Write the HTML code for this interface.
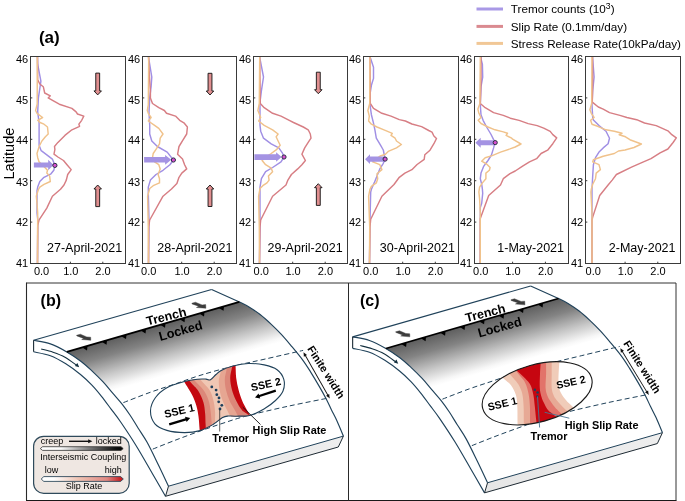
<!DOCTYPE html>
<html><head><meta charset="utf-8"><style>
html,body{margin:0;padding:0;background:#fff;}
svg{display:block;will-change:transform;}
text{font-family:"Liberation Sans",sans-serif;fill:#000;}
</style></head><body>
<svg width="685" height="501" viewBox="0 0 685 501">
<rect x="0" y="0" width="685" height="501" fill="#fff"/>
<clipPath id="cp0"><rect x="30.5" y="56.5" width="95.0" height="207.0"/></clipPath>
<g clip-path="url(#cp0)" fill="none" stroke-width="1.45" stroke-linejoin="round" stroke-linecap="round">
<polyline points="37.5,57 37.7,64.4 40.9,81.2 38.4,97.9 37.7,111.9 39.1,123 39.1,134 39.1,145.2 41.2,150.7 46.8,154.9 52.4,159.1 54.9,165.4 53.8,170.3 51,173.8 44,177.3 39.8,181.5 37.7,187.1 37,190.6 37,213 37.8,220 37.5,263" stroke="#a08fe4"/>
<polyline points="37.5,57 37.7,79.8 39.8,84 43.3,86.7 44.7,93 50.3,95.8 48.2,97.9 53,100.7 59.3,104.2 71.9,108.4 76.1,111.9 77.5,114 83.8,116.1 81.7,120.3 78.9,124.2 79.6,126.3 71.9,129.8 64.9,135.4 57.9,142.4 54.5,146.5 54.9,149.3 54,154.2 57.9,157 63.5,160.5 67,164.7 71.2,169.6 67.7,174.5 66.3,180.1 64,185 60.5,189.2 52.4,196.2 46.8,208.1 39.1,219.9 37.7,225.5 37.5,263" stroke="#d77e84"/>
<polyline points="37.3,57 37.2,104 36.3,107.7 35.6,110.5 37,113.3 42.6,117.5 37.7,120.3 40,122.5 44,124.2 47.5,127 48.2,134 45.4,136.8 41.9,141 39.1,146.5 37,153.5 37.7,157.7 39.1,161.9 43,165.5 47.5,170.3 46.8,173.1 49.6,175.9 50.3,181.5 44,184.3 39.8,187.1 38.4,189.5 36.3,196.2 37,203.2 37.7,213 37.5,263" stroke="#f0c28b"/>
</g>
<polygon points="33.9,162.6 48.2,162.6 48.2,159.8 53.5,165.05 48.2,170.3 48.2,167.5 33.9,167.5" fill="#a493e3"/>
<circle cx="54.9" cy="165.4" r="2.1" fill="#d84fd0" stroke="#2a2f45" stroke-width="1"/>
<polygon points="95.75,73.1 99.65,73.1 99.65,90.9 101.45,90.9 97.7,94.9 93.95,90.9 95.75,90.9" fill="#e08f90" stroke="#111" stroke-width="0.9" stroke-linejoin="miter"/>
<polygon points="95.75,206.6 99.65,206.6 99.65,189 101.45,189 97.7,185 93.95,189 95.75,189" fill="#e08f90" stroke="#111" stroke-width="0.9" stroke-linejoin="miter"/>
<rect x="30.5" y="56.5" width="95.0" height="207.0" fill="none" stroke="#3a3a3a" stroke-width="1"/>
<line x1="30.5" y1="97.9" x2="32.3" y2="97.9" stroke="#3a3a3a" stroke-width="1"/>
<line x1="30.5" y1="139.3" x2="32.3" y2="139.3" stroke="#3a3a3a" stroke-width="1"/>
<line x1="30.5" y1="180.7" x2="32.3" y2="180.7" stroke="#3a3a3a" stroke-width="1"/>
<line x1="30.5" y1="222.1" x2="32.3" y2="222.1" stroke="#3a3a3a" stroke-width="1"/>
<line x1="70.4" y1="263.5" x2="70.4" y2="261.7" stroke="#3a3a3a" stroke-width="1"/>
<line x1="102.8" y1="263.5" x2="102.8" y2="261.7" stroke="#3a3a3a" stroke-width="1"/>
<text x="28.2" y="62.95" font-size="11" text-anchor="end">46</text>
<text x="28.2" y="103.85" font-size="11" text-anchor="end">45</text>
<text x="28.2" y="144.3" font-size="11" text-anchor="end">44</text>
<text x="28.2" y="185.65" font-size="11" text-anchor="end">43</text>
<text x="28.2" y="225.95" font-size="11" text-anchor="end">42</text>
<text x="28.2" y="267.25" font-size="11" text-anchor="end">41</text>
<text x="41.6" y="274.8" font-size="11" text-anchor="middle">0.0</text>
<text x="70.8" y="274.8" font-size="11" text-anchor="middle">1.0</text>
<text x="103" y="274.8" font-size="11" text-anchor="middle">2.0</text>
<text x="122.1" y="251.8" font-size="12.5" text-anchor="end">27-April-2021</text>
<clipPath id="cp1"><rect x="142.5" y="56.5" width="94.0" height="207.0"/></clipPath>
<g clip-path="url(#cp1)" fill="none" stroke-width="1.45" stroke-linejoin="round" stroke-linecap="round">
<polyline points="148.5,57 149,60.2 151.8,77 151.1,86.7 149.7,97.9 149,111.9 149.7,125.2 149.7,134 151.8,141 157.4,146.5 167.2,152.1 173.4,160 169.9,164.7 163,170.3 156,174.5 150.4,180.1 148.3,187.1 148.3,193.4 149,220 148.5,263" stroke="#a08fe4"/>
<polyline points="148.5,57 149.7,80.5 150.4,90.9 150.4,97.9 152.5,103.5 158.8,107.7 164.4,110.5 166.5,113.3 175.5,116.1 179.7,120.3 183.9,122.8 187.4,127 186.7,134 183.2,139.6 179,146.5 177.6,154.2 182.5,159.1 184.6,164.7 186.7,168.9 181.8,173.1 179,177.3 176.9,183.5 171.5,189 163,196.2 149.7,220 148.7,226.9 148.5,263" stroke="#d77e84"/>
<polyline points="148.7,57 148.3,104.9 147.3,110.5 148.3,113.3 151.1,117.5 148.3,121 154.6,125.4 158.8,128.4 163,134 160.2,138.2 159.5,143.8 156,149.3 153.2,153.5 152.5,157.7 154.6,161.9 158.8,164.7 160.2,168.9 158.1,174.5 159.5,178.7 159.5,182.9 153.2,185.7 149.7,188.5 147.6,196.2 148.3,226.9 148.5,263" stroke="#f0c28b"/>
</g>
<polygon points="144.1,157 165.1,157 165.1,154.9 171.3,159.8 165.1,164.7 165.1,162.6 144.1,162.6" fill="#a493e3"/>
<circle cx="173.4" cy="160.0" r="2.1" fill="#d84fd0" stroke="#2a2f45" stroke-width="1"/>
<polygon points="208.05,73.3 211.95,73.3 211.95,91 213.75,91 210,95 206.25,91 208.05,91" fill="#e08f90" stroke="#111" stroke-width="0.9" stroke-linejoin="miter"/>
<polygon points="208.05,206.5 211.95,206.5 211.95,189 213.75,189 210,185 206.25,189 208.05,189" fill="#e08f90" stroke="#111" stroke-width="0.9" stroke-linejoin="miter"/>
<rect x="142.5" y="56.5" width="94.0" height="207.0" fill="none" stroke="#3a3a3a" stroke-width="1"/>
<line x1="142.5" y1="97.9" x2="144.3" y2="97.9" stroke="#3a3a3a" stroke-width="1"/>
<line x1="142.5" y1="139.3" x2="144.3" y2="139.3" stroke="#3a3a3a" stroke-width="1"/>
<line x1="142.5" y1="180.7" x2="144.3" y2="180.7" stroke="#3a3a3a" stroke-width="1"/>
<line x1="142.5" y1="222.1" x2="144.3" y2="222.1" stroke="#3a3a3a" stroke-width="1"/>
<line x1="181.7" y1="263.5" x2="181.7" y2="261.7" stroke="#3a3a3a" stroke-width="1"/>
<line x1="214.2" y1="263.5" x2="214.2" y2="261.7" stroke="#3a3a3a" stroke-width="1"/>
<text x="140.2" y="62.95" font-size="11" text-anchor="end">46</text>
<text x="140.2" y="103.85" font-size="11" text-anchor="end">45</text>
<text x="140.2" y="144.3" font-size="11" text-anchor="end">44</text>
<text x="140.2" y="185.65" font-size="11" text-anchor="end">43</text>
<text x="140.2" y="225.95" font-size="11" text-anchor="end">42</text>
<text x="140.2" y="267.25" font-size="11" text-anchor="end">41</text>
<text x="148.7" y="274.8" font-size="11" text-anchor="middle">0.0</text>
<text x="182.1" y="274.8" font-size="11" text-anchor="middle">1.0</text>
<text x="214.4" y="274.8" font-size="11" text-anchor="middle">2.0</text>
<text x="232.4" y="251.8" font-size="12.5" text-anchor="end">28-April-2021</text>
<clipPath id="cp2"><rect x="253.5" y="56.5" width="94.0" height="207.0"/></clipPath>
<g clip-path="url(#cp2)" fill="none" stroke-width="1.45" stroke-linejoin="round" stroke-linecap="round">
<polyline points="259.7,57 260,58.8 263.5,77 261.4,90.9 260,102.1 260,125.2 260.7,131.2 263.5,138.2 271.2,143.8 278.8,147.9 282.3,152.8 284,157 281,161.9 272.6,167.5 265.6,171.7 261.4,178.7 260,187.1 260,220 259.5,263" stroke="#a08fe4"/>
<polyline points="259.7,57 260,79.8 260.3,103.5 264.2,107.7 272.6,113.3 281,116.1 289.3,120.3 293.5,122.5 303.3,127 308.2,129.8 310.3,134 311,138.2 308.2,142.4 304.7,147.9 301.9,154.2 305.4,160.5 301.9,164.7 297.7,168.9 291.4,174.5 287.9,180.1 286,185 272.6,196.2 260.7,220 260,226.9 259.5,263" stroke="#d77e84"/>
<polyline points="259.7,57 259.3,103.5 257.9,110.5 260.7,117.5 258.6,121 264.2,125.4 272.6,129.8 278.1,134 276.1,136.8 278.1,141 280.2,145.2 276.8,149.3 271.2,153.5 266,157 262.1,160.5 265.6,164.7 271.2,168.2 272.6,171.7 268.4,175.9 269.1,180.1 267,182.9 262.8,185.7 260,188.5 258.6,196.2 259.3,226.9 259.5,263" stroke="#f0c28b"/>
</g>
<polygon points="254.4,154.3 276.1,154.3 276.1,152.35 281.6,157.1 276.1,161.85 276.1,159.9 254.4,159.9" fill="#a493e3"/>
<circle cx="284.0" cy="157.0" r="2.1" fill="#d84fd0" stroke="#2a2f45" stroke-width="1"/>
<polygon points="316.35,72.2 320.25,72.2 320.25,89.7 322.05,89.7 318.3,93.7 314.55,89.7 316.35,89.7" fill="#e08f90" stroke="#111" stroke-width="0.9" stroke-linejoin="miter"/>
<polygon points="316.35,205.4 320.25,205.4 320.25,187.7 322.05,187.7 318.3,183.7 314.55,187.7 316.35,187.7" fill="#e08f90" stroke="#111" stroke-width="0.9" stroke-linejoin="miter"/>
<rect x="253.5" y="56.5" width="94.0" height="207.0" fill="none" stroke="#3a3a3a" stroke-width="1"/>
<line x1="253.5" y1="97.9" x2="255.3" y2="97.9" stroke="#3a3a3a" stroke-width="1"/>
<line x1="253.5" y1="139.3" x2="255.3" y2="139.3" stroke="#3a3a3a" stroke-width="1"/>
<line x1="253.5" y1="180.7" x2="255.3" y2="180.7" stroke="#3a3a3a" stroke-width="1"/>
<line x1="253.5" y1="222.1" x2="255.3" y2="222.1" stroke="#3a3a3a" stroke-width="1"/>
<line x1="292.7" y1="263.5" x2="292.7" y2="261.7" stroke="#3a3a3a" stroke-width="1"/>
<line x1="325.2" y1="263.5" x2="325.2" y2="261.7" stroke="#3a3a3a" stroke-width="1"/>
<text x="251.2" y="62.95" font-size="11" text-anchor="end">46</text>
<text x="251.2" y="103.85" font-size="11" text-anchor="end">45</text>
<text x="251.2" y="144.3" font-size="11" text-anchor="end">44</text>
<text x="251.2" y="185.65" font-size="11" text-anchor="end">43</text>
<text x="251.2" y="225.95" font-size="11" text-anchor="end">42</text>
<text x="251.2" y="267.25" font-size="11" text-anchor="end">41</text>
<text x="261.2" y="274.8" font-size="11" text-anchor="middle">0.0</text>
<text x="293.1" y="274.8" font-size="11" text-anchor="middle">1.0</text>
<text x="325.4" y="274.8" font-size="11" text-anchor="middle">2.0</text>
<text x="342.6" y="251.8" font-size="12.5" text-anchor="end">29-April-2021</text>
<clipPath id="cp3"><rect x="363.5" y="56.5" width="95.0" height="207.0"/></clipPath>
<g clip-path="url(#cp3)" fill="none" stroke-width="1.45" stroke-linejoin="round" stroke-linecap="round">
<polyline points="370,57 370.7,58.8 373.5,67.2 373.5,78.4 371.4,85.3 370.3,92.3 370,104.9 371.4,114.7 373.5,123.1 374.9,129.8 376.3,138.2 380.5,145.2 383.3,150 385.1,159.1 383.3,163.3 379.8,168.9 377,175.9 374.2,182.9 371.4,189.2 370.7,192 370,220 369.5,263" stroke="#a08fe4"/>
<polyline points="370,57 370.3,90.9 370.3,103.5 373.5,108.4 381.9,113.3 391,116.1 399.3,119.6 405.4,121 411.9,124 421.6,126.6 428.7,130.5 432,132.1 433.9,136 436.5,138.5 433.9,143.7 430,150.2 424.8,154.8 424.2,159.3 417.1,164.5 411.9,169.7 404.9,173.1 399.3,177.3 394,184.5 381.9,196.2 370.7,219.2 370,226.9 369.5,263" stroke="#d77e84"/>
<polyline points="370,57 369.7,103.5 367.9,110.5 369.3,116.1 368.6,121 371.4,124.2 377,127 384,129.8 392.3,133.3 391,135.4 395.1,138.2 396.5,141 401.4,144.5 396.5,147.9 388.2,151.4 385.4,154.2 379.8,156.3 376,159 372.8,161.9 379.8,164.7 381.9,169.6 377,173.8 377.7,178.7 376.3,182.9 371.4,186.4 370,189.2 368.6,196.2 369.7,226.9 369.5,263" stroke="#f0c28b"/>
</g>
<polygon points="384,156.55 370,156.55 370,154.3 365.1,159.2 370,164.1 370,161.85 384,161.85" fill="#a493e3"/>
<circle cx="385.1" cy="159.1" r="2.1" fill="#d84fd0" stroke="#2a2f45" stroke-width="1"/>
<rect x="363.5" y="56.5" width="95.0" height="207.0" fill="none" stroke="#3a3a3a" stroke-width="1"/>
<line x1="363.5" y1="97.9" x2="365.3" y2="97.9" stroke="#3a3a3a" stroke-width="1"/>
<line x1="363.5" y1="139.3" x2="365.3" y2="139.3" stroke="#3a3a3a" stroke-width="1"/>
<line x1="363.5" y1="180.7" x2="365.3" y2="180.7" stroke="#3a3a3a" stroke-width="1"/>
<line x1="363.5" y1="222.1" x2="365.3" y2="222.1" stroke="#3a3a3a" stroke-width="1"/>
<line x1="402.7" y1="263.5" x2="402.7" y2="261.7" stroke="#3a3a3a" stroke-width="1"/>
<line x1="435.3" y1="263.5" x2="435.3" y2="261.7" stroke="#3a3a3a" stroke-width="1"/>
<text x="361.2" y="62.95" font-size="11" text-anchor="end">46</text>
<text x="361.2" y="103.85" font-size="11" text-anchor="end">45</text>
<text x="361.2" y="144.3" font-size="11" text-anchor="end">44</text>
<text x="361.2" y="185.65" font-size="11" text-anchor="end">43</text>
<text x="361.2" y="225.95" font-size="11" text-anchor="end">42</text>
<text x="361.2" y="267.25" font-size="11" text-anchor="end">41</text>
<text x="370.7" y="274.8" font-size="11" text-anchor="middle">0.0</text>
<text x="403.1" y="274.8" font-size="11" text-anchor="middle">1.0</text>
<text x="435.5" y="274.8" font-size="11" text-anchor="middle">2.0</text>
<text x="454.9" y="251.8" font-size="12.5" text-anchor="end">30-April-2021</text>
<clipPath id="cp4"><rect x="474.5" y="56.5" width="94.0" height="207.0"/></clipPath>
<g clip-path="url(#cp4)" fill="none" stroke-width="1.45" stroke-linejoin="round" stroke-linecap="round">
<polyline points="481,57 481,58.8 482.4,64.4 482.7,77 481,86.7 480.3,104.9 481,114.7 483.1,120.3 486.6,127 490.8,134 495,142.4 493.6,147.9 491.5,154.9 488,160.5 483.8,166.1 481,173.1 480.3,178.7 481.7,184.3 482.4,189.2 482.7,193.4 481.7,203.2 480.3,207.4 480.3,263" stroke="#a08fe4"/>
<polyline points="481,57 481,81.1 480.3,103.5 485.2,107.7 493.6,112.6 503.3,115.4 510.3,118.2 519.1,120.4 528.2,123.6 537.2,125.6 543.7,128.2 550.2,131.4 552.8,134.6 556.7,137.9 552.8,143.7 547.6,150.2 541.1,153.5 536.6,158.7 529.5,161.9 523,165.8 515.2,171 510,173.6 503.3,178.7 500.5,185 488.7,195.5 480.3,218.5 480.3,263" stroke="#d77e84"/>
<polyline points="480.3,57 479.9,103.5 477.9,109.1 478.9,113.3 481,117.5 478.2,120.3 481,123.5 488,127 495,129.8 503.3,131.9 507.5,133.3 506.1,135.4 511.7,138.2 512.6,139.2 521,144 515.2,147 510,148.9 500.5,152.1 492.2,155.6 485.2,157.7 481.7,161.2 486.6,164 490.1,167.5 489.4,170.3 485.9,173.1 485.9,178.7 482.4,182.9 479.6,187.1 478.9,192 479.6,199 480.3,213 480.3,263" stroke="#f0c28b"/>
</g>
<polygon points="493.6,140.3 480.7,140.3 480.7,137.85 475.4,142.75 480.7,147.65 480.7,145.2 493.6,145.2" fill="#a493e3"/>
<circle cx="495.2" cy="142.6" r="2.1" fill="#d84fd0" stroke="#2a2f45" stroke-width="1"/>
<rect x="474.5" y="56.5" width="94.0" height="207.0" fill="none" stroke="#3a3a3a" stroke-width="1"/>
<line x1="474.5" y1="97.9" x2="476.3" y2="97.9" stroke="#3a3a3a" stroke-width="1"/>
<line x1="474.5" y1="139.3" x2="476.3" y2="139.3" stroke="#3a3a3a" stroke-width="1"/>
<line x1="474.5" y1="180.7" x2="476.3" y2="180.7" stroke="#3a3a3a" stroke-width="1"/>
<line x1="474.5" y1="222.1" x2="476.3" y2="222.1" stroke="#3a3a3a" stroke-width="1"/>
<line x1="512.6" y1="263.5" x2="512.6" y2="261.7" stroke="#3a3a3a" stroke-width="1"/>
<line x1="545.4" y1="263.5" x2="545.4" y2="261.7" stroke="#3a3a3a" stroke-width="1"/>
<text x="472.2" y="62.95" font-size="11" text-anchor="end">46</text>
<text x="472.2" y="103.85" font-size="11" text-anchor="end">45</text>
<text x="472.2" y="144.3" font-size="11" text-anchor="end">44</text>
<text x="472.2" y="185.65" font-size="11" text-anchor="end">43</text>
<text x="472.2" y="225.95" font-size="11" text-anchor="end">42</text>
<text x="472.2" y="267.25" font-size="11" text-anchor="end">41</text>
<text x="480.7" y="274.8" font-size="11" text-anchor="middle">0.0</text>
<text x="513" y="274.8" font-size="11" text-anchor="middle">1.0</text>
<text x="545.6" y="274.8" font-size="11" text-anchor="middle">2.0</text>
<text x="564" y="251.8" font-size="12.5" text-anchor="end">1-May-2021</text>
<clipPath id="cp5"><rect x="585.5" y="56.5" width="95.0" height="207.0"/></clipPath>
<g clip-path="url(#cp5)" fill="none" stroke-width="1.45" stroke-linejoin="round" stroke-linecap="round">
<polyline points="592.5,57 592.7,58.8 594.1,77 592.7,90.9 592,104.9 592.7,117.5 593.4,120 599,125.6 606,131.2 609.5,138.2 608.1,143.8 603.2,147.9 599,152.1 595.5,157.7 593.4,164.7 592.7,175.9 592,189.2 592,263" stroke="#a08fe4"/>
<polyline points="592.5,57 592.7,81.1 592.3,102.1 598.3,107 603.2,109.1 609.5,112.6 619.9,115.4 626.9,117.5 636.7,119.7 644.5,123 656.2,125.6 667.9,130.8 671.8,134.7 676.3,137.9 673.1,142.5 667.9,149 660.1,152.9 651,158.7 640.6,163.2 631.5,167.1 616.4,174.5 612.2,180.1 608.1,185 599.7,195.5 592.7,217.1 592,220 592,263" stroke="#d77e84"/>
<polyline points="592,57 591.7,103.5 589.9,109.8 591.3,113.3 594.1,117.5 590.6,120.3 592,124.2 597.6,126.3 606,129.8 614.3,131.2 622,133.3 619.2,134.7 625.5,136.8 629.9,139.7 635.3,141.7 641.4,144 634,147.5 625,150 618.5,151 614.3,153.5 603.2,156.3 593.4,159.8 592.7,161.9 599,164.7 600.4,169.6 596.2,173.1 595.5,178.7 592.7,184.3 591.3,189.2 590.9,192 592,213 592,263" stroke="#f0c28b"/>
</g>
<rect x="585.5" y="56.5" width="95.0" height="207.0" fill="none" stroke="#3a3a3a" stroke-width="1"/>
<line x1="585.5" y1="97.9" x2="587.3" y2="97.9" stroke="#3a3a3a" stroke-width="1"/>
<line x1="585.5" y1="139.3" x2="587.3" y2="139.3" stroke="#3a3a3a" stroke-width="1"/>
<line x1="585.5" y1="180.7" x2="587.3" y2="180.7" stroke="#3a3a3a" stroke-width="1"/>
<line x1="585.5" y1="222.1" x2="587.3" y2="222.1" stroke="#3a3a3a" stroke-width="1"/>
<line x1="625.1" y1="263.5" x2="625.1" y2="261.7" stroke="#3a3a3a" stroke-width="1"/>
<line x1="657.8" y1="263.5" x2="657.8" y2="261.7" stroke="#3a3a3a" stroke-width="1"/>
<text x="583.2" y="62.95" font-size="11" text-anchor="end">46</text>
<text x="583.2" y="103.85" font-size="11" text-anchor="end">45</text>
<text x="583.2" y="144.3" font-size="11" text-anchor="end">44</text>
<text x="583.2" y="185.65" font-size="11" text-anchor="end">43</text>
<text x="583.2" y="225.95" font-size="11" text-anchor="end">42</text>
<text x="583.2" y="267.25" font-size="11" text-anchor="end">41</text>
<text x="593.2" y="274.8" font-size="11" text-anchor="middle">0.0</text>
<text x="625.5" y="274.8" font-size="11" text-anchor="middle">1.0</text>
<text x="658" y="274.8" font-size="11" text-anchor="middle">2.0</text>
<text x="675.5" y="251.8" font-size="12.5" text-anchor="end">2-May-2021</text>
<text x="38.9" y="42.6" font-size="17" font-weight="bold">(a)</text>
<text transform="translate(14.0,153.6) rotate(-90)" font-size="14.6" text-anchor="middle">Latitude</text>
<line x1="476.5" y1="9.0" x2="503" y2="9.0" stroke="#a08fe4" stroke-width="3" opacity="0.9"/>
<text x="510.8" y="13.2" font-size="11.7">Tremor counts (10<tspan font-size="8.6" dy="-4.4">3</tspan><tspan dy="4.4">)</tspan></text>
<line x1="476.5" y1="26.4" x2="503" y2="26.4" stroke="#d77e84" stroke-width="3" opacity="0.9"/>
<text x="510.8" y="30.6" font-size="11.7">Slip Rate (0.1mm/day)</text>
<line x1="476.5" y1="43.4" x2="503" y2="43.4" stroke="#f0c28b" stroke-width="3" opacity="0.9"/>
<text x="510.8" y="47.6" font-size="11.7">Stress Release Rate(10kPa/day)</text>
<line x1="26.5" y1="283" x2="676" y2="283" stroke="#333" stroke-width="1"/>
<line x1="676" y1="283" x2="676" y2="500.5" stroke="#333" stroke-width="1"/>
<line x1="26.5" y1="282.5" x2="26.5" y2="500.5" stroke="#2a2a2a" stroke-width="1.1"/>
<line x1="26" y1="500.5" x2="676.5" y2="500.5" stroke="#1a1a1a" stroke-width="1"/>
<line x1="348.5" y1="283" x2="348.5" y2="500.5" stroke="#2a2a2a" stroke-width="1"/>
<defs><linearGradient id="sbg" gradientUnits="userSpaceOnUse" x1="153.1" y1="326.9" x2="167.01" y2="374.93"><stop offset="0" stop-color="#5e5e5e"/><stop offset="0.3" stop-color="#838383"/><stop offset="0.65" stop-color="#c7c7c7"/><stop offset="0.92" stop-color="#f7f7f7"/><stop offset="1" stop-color="#fff"/></linearGradient><linearGradient id="sbf" x1="0" y1="0" x2="1" y2="0"><stop offset="0" stop-color="#e6e6e6"/><stop offset="1" stop-color="#eeeeee"/></linearGradient></defs>
<path d="M66.8,351.9 L239.4,301.9 C241,302.73 245.55,304.8 249,306.9 C252.45,309 256.38,311.6 260.1,314.5 C263.82,317.4 267.8,321.03 271.3,324.3 C274.8,327.57 277.85,330.6 281.1,334.1 C284.35,337.6 287.25,341.05 290.8,345.3 C294.35,349.55 299.08,355.13 302.4,359.6 C305.72,364.07 307.92,367.68 310.7,372.1 C313.48,376.52 316.53,381.67 319.1,386.1 C321.67,390.53 324.03,394.72 326.1,398.7 C328.17,402.68 329.68,406.28 331.5,410 C333.32,413.72 335.02,416.65 337,421 C338.98,425.35 342.33,433.58 343.4,436.1 L168.5,486.2 C166.8,482.62 161.87,472.02 158.3,464.7 C154.73,457.38 150.45,448.38 147.1,442.3 C143.75,436.22 141,432.67 138.2,428.2 C135.4,423.73 132.95,419.48 130.3,415.5 C127.65,411.52 125.23,408.03 122.3,404.3 C119.37,400.57 115.9,396.83 112.7,393.1 C109.5,389.37 106.57,385.62 103.1,381.9 C99.63,378.18 95.62,374.25 91.9,370.8 C88.18,367.35 84.98,364.35 80.8,361.2 C76.62,358.05 69.13,353.45 66.8,351.9Z" fill="url(#sbg)"/>
<polygon points="168.5,486.2 343.4,436.1 338.3,447 165.5,496.3" fill="url(#sbf)"/>
<path d="M33.6,340.3 C36.4,340.9 44.87,341.97 50.4,343.9 C55.93,345.83 61.73,349.02 66.8,351.9 C71.87,354.78 76.62,358.05 80.8,361.2 C84.98,364.35 88.18,367.35 91.9,370.8 C95.62,374.25 99.63,378.18 103.1,381.9 C106.57,385.62 109.5,389.37 112.7,393.1 C115.9,396.83 119.37,400.57 122.3,404.3 C125.23,408.03 127.65,411.52 130.3,415.5 C132.95,419.48 135.4,423.73 138.2,428.2 C141,432.67 143.75,436.22 147.1,442.3 C150.45,448.38 154.73,457.38 158.3,464.7 C161.87,472.02 166.8,482.62 168.5,486.2" fill="none" stroke="#20425a" stroke-width="1.15"/>
<path d="M33.6,351.8 C36.4,352.45 45.03,353.7 50.4,355.7 C55.77,357.7 60.78,360.67 65.8,363.8 C70.82,366.93 76.15,370.95 80.5,374.5 C84.85,378.05 88.4,381.47 91.9,385.1 C95.4,388.73 98.3,392.3 101.5,396.3 C104.7,400.3 107.93,404.85 111.1,409.1 C114.27,413.35 116.35,415.73 120.5,421.8 C124.65,427.87 130.77,437.02 136,445.5 C141.23,453.98 146.98,464.23 151.9,472.7 C156.82,481.17 163.23,492.37 165.5,496.3" fill="none" stroke="#20425a" stroke-width="1.15"/>
<path d="M211.6,289.5 L239.4,301.9 C241,302.73 245.55,304.8 249,306.9 C252.45,309 256.38,311.6 260.1,314.5 C263.82,317.4 267.8,321.03 271.3,324.3 C274.8,327.57 277.85,330.6 281.1,334.1 C284.35,337.6 287.25,341.05 290.8,345.3 C294.35,349.55 299.08,355.13 302.4,359.6 C305.72,364.07 307.92,367.68 310.7,372.1 C313.48,376.52 316.53,381.67 319.1,386.1 C321.67,390.53 324.03,394.72 326.1,398.7 C328.17,402.68 329.68,406.28 331.5,410 C333.32,413.72 335.02,416.65 337,421 C338.98,425.35 342.33,433.58 343.4,436.1" fill="none" stroke="#20425a" stroke-width="1.15"/>
<line x1="33.6" y1="340.3" x2="211.6" y2="289.5" stroke="#20425a" stroke-width="1.15"/>
<line x1="33.6" y1="340.3" x2="33.6" y2="351.8" stroke="#1a2a35" stroke-width="1.1"/>
<line x1="168.5" y1="486.2" x2="343.4" y2="436.1" stroke="#20425a" stroke-width="1"/>
<polyline points="343.4,436.1 338.3,447 165.5,496.3 168.5,486.2" fill="none" stroke="#1e2a33" stroke-width="1"/>
<line x1="66.8" y1="351.9" x2="239.4" y2="301.9" stroke="#000" stroke-width="1.7"/>
<polygon points="82.21,347.43 87.5,345.9 87.03,350.41" fill="#000"/>
<polygon points="101.71,341.79 107,340.26 106.53,344.76" fill="#000"/>
<polygon points="121.21,336.14 126.5,334.61 126.03,339.11" fill="#000"/>
<polygon points="140.71,330.49 146,328.96 145.53,333.46" fill="#000"/>
<polygon points="160.21,324.84 165.5,323.31 165.03,327.82" fill="#000"/>
<polygon points="179.71,319.19 185,317.66 184.53,322.17" fill="#000"/>
<polygon points="199.21,313.54 204.5,312.01 204.03,316.52" fill="#000"/>
<polygon points="218.71,307.89 224,306.36 223.53,310.87" fill="#000"/>
<polygon points="191.9,303.2 195.4,302.2 202.1,304.9 205.7,304.6 205.9,308.3 196.4,307.5 198.6,306.2 192,303.9" fill="#3c3c3c" stroke="#3c3c3c" stroke-width="0.4" stroke-linejoin="round"/>
<polygon points="76.5,335.3 80.4,334.2 86.8,336.9 90.7,337.2 90.8,340.3 81.7,339.5 83.6,338.4 76.9,335.9" fill="#3c3c3c" stroke="#3c3c3c" stroke-width="0.4" stroke-linejoin="round"/>
<path d="M41.2,349 C43.17,349.53 49.03,350.83 53,352.2 C56.97,353.57 61,354.97 65,357.2 C69,359.43 75,364.2 77,365.6" fill="none" stroke="#14303f" stroke-width="1.1"/>
<polygon points="79.2,367.3 74.9,366 77.4,362.9" fill="#14303f"/>
<path d="M123.4,402.6 C127.83,400.9 141.4,395.5 150,392.4 C158.6,389.3 166.67,386.83 175,384 C183.33,381.17 190.5,378.32 200,375.4 C209.5,372.48 221.33,369.18 232,366.5 C242.67,363.82 252.15,361.98 264,359.3 C275.85,356.62 296.58,351.88 303.1,350.4" fill="none" stroke="#20425a" stroke-width="1" stroke-dasharray="5,3"/>
<path d="M152.8,449.1 C156.5,447.63 167.15,443.3 175,440.3 C182.85,437.3 191.9,433.95 199.9,431.1 C207.9,428.25 215.13,425.75 223,423.2 C230.87,420.65 236.15,418.65 247.1,415.8 C258.05,412.95 274.95,409.1 288.7,406.1 C302.45,403.1 322.78,399.18 329.6,397.8" fill="none" stroke="#20425a" stroke-width="1" stroke-dasharray="5,3"/>
<g transform="translate(303.5,352.3) rotate(60.43)"><line x1="2" y1="0" x2="50.89" y2="0" stroke="#111" stroke-width="0.9"/><polygon points="0,0 4,-1.8 4,1.8" fill="#111"/><polygon points="52.89,0 48.89,-1.8 48.89,1.8" fill="#111"/></g>
<text transform="translate(307,348.8) rotate(57.8)" font-size="10.8" font-weight="bold">Finite width</text>
<text transform="translate(147.4,325.6) rotate(-14)" font-size="12.5" font-weight="bold">Trench</text>
<text transform="translate(160.2,340.9) rotate(-15.5)" font-size="12.8" font-weight="bold">Locked</text>
<clipPath id="pnc"><path d="M150.5,410.7 C150.6,406.32 152.77,401.33 155.5,397.5 C158.23,393.67 162.07,390.37 166.9,387.7 C171.73,385.03 179.38,382.92 184.5,381.5 C189.62,380.08 194.02,379.6 197.6,379.2 C201.18,378.8 203.85,379 206,379.1 C208.15,379.2 208.83,380.57 210.5,379.8 C212.17,379.03 214.22,376.07 216,374.5 C217.78,372.93 218.37,371.82 221.2,370.4 C224.03,368.98 228.5,367.15 233,366 C237.5,364.85 243,363.68 248.2,363.5 C253.4,363.32 259.38,363.87 264.2,364.9 C269.02,365.93 273.83,367.28 277.1,369.7 C280.37,372.12 282.82,375.85 283.8,379.4 C284.78,382.95 284.38,387.48 283,391 C281.62,394.52 278.67,397.5 275.5,400.5 C272.33,403.5 268.17,406.55 264,409 C259.83,411.45 255.17,414 250.5,415.2 C245.83,416.4 239.72,416.07 236,416.2 C232.28,416.33 230.43,415.78 228.2,416 C225.97,416.22 225.13,416.08 222.6,417.5 C220.07,418.92 216.75,422.32 213,424.5 C209.25,426.68 204.87,429.25 200.1,430.6 C195.33,431.95 189.93,432.63 184.4,432.6 C178.87,432.57 171.82,431.87 166.9,430.4 C161.98,428.93 157.63,427.08 154.9,423.8 C152.17,420.52 150.4,415.08 150.5,410.7Z"/></clipPath>
<path d="M150.5,410.7 C150.6,406.32 152.77,401.33 155.5,397.5 C158.23,393.67 162.07,390.37 166.9,387.7 C171.73,385.03 179.38,382.92 184.5,381.5 C189.62,380.08 194.02,379.6 197.6,379.2 C201.18,378.8 203.85,379 206,379.1 C208.15,379.2 208.83,380.57 210.5,379.8 C212.17,379.03 214.22,376.07 216,374.5 C217.78,372.93 218.37,371.82 221.2,370.4 C224.03,368.98 228.5,367.15 233,366 C237.5,364.85 243,363.68 248.2,363.5 C253.4,363.32 259.38,363.87 264.2,364.9 C269.02,365.93 273.83,367.28 277.1,369.7 C280.37,372.12 282.82,375.85 283.8,379.4 C284.78,382.95 284.38,387.48 283,391 C281.62,394.52 278.67,397.5 275.5,400.5 C272.33,403.5 268.17,406.55 264,409 C259.83,411.45 255.17,414 250.5,415.2 C245.83,416.4 239.72,416.07 236,416.2 C232.28,416.33 230.43,415.78 228.2,416 C225.97,416.22 225.13,416.08 222.6,417.5 C220.07,418.92 216.75,422.32 213,424.5 C209.25,426.68 204.87,429.25 200.1,430.6 C195.33,431.95 189.93,432.63 184.4,432.6 C178.87,432.57 171.82,431.87 166.9,430.4 C161.98,428.93 157.63,427.08 154.9,423.8 C152.17,420.52 150.4,415.08 150.5,410.7Z" fill="#fff"/>
<g clip-path="url(#pnc)">
<path d="M166.61,352 C169.63,357.07 180.49,375.32 184.7,382.4 C188.91,389.48 189.97,390.65 191.9,394.5 C193.83,398.35 195.2,401.83 196.3,405.5 C197.4,409.17 197.95,412.48 198.5,416.5 C199.05,420.52 199.2,424.85 199.6,429.6 C200,434.35 200.68,442.43 200.89,445 L266.21,445 C263.49,440.02 253.82,422.28 249.9,415.1 C245.98,407.92 244.58,406.08 242.7,401.9 C240.82,397.72 239.68,393.98 238.6,390 C237.52,386.02 236.7,381.9 236.2,378 C235.7,374.1 235.83,370.93 235.6,366.6 C235.37,362.27 234.96,354.43 234.83,352Z" fill="#c40810"/>
<path d="M163.89,352 C168.27,356.97 184.43,375.27 190.2,381.8 C195.97,388.33 196.3,387.8 198.5,391.2 C200.7,394.6 202.3,398.53 203.4,402.2 C204.5,405.87 204.73,409.53 205.1,413.2 C205.47,416.87 205.36,418.9 205.6,424.2 C205.84,429.5 206.39,441.53 206.55,445 L289.81,445 C282.96,440.02 256.65,420.88 248.7,415.1 C240.75,409.32 244.18,412.7 242.1,410.3 C240.02,407.9 237.88,404.08 236.2,400.7 C234.52,397.32 233,393.78 232,390 C231,386.22 230.2,381.8 230.2,378 C230.2,374.2 231.28,371.53 232,367.2 C232.72,362.87 234.11,354.53 234.53,352Z" fill="#dc8779"/>
<path d="M167.9,352 C172.45,356.88 189.28,374.95 195.2,381.3 C201.12,387.65 201.2,386.98 203.4,390.1 C205.6,393.22 207.2,396.52 208.4,400 C209.6,403.48 210.05,406.97 210.6,411 C211.15,415.03 211.23,418.53 211.7,424.2 C212.17,429.87 213.14,441.53 213.43,445 L254.21,445 C251.11,439.42 239.7,418.88 235.6,411.5 C231.5,404.12 231.2,404.28 229.6,400.7 C228,397.12 226.8,393.58 226,390 C225.2,386.42 224.7,382.6 224.8,379.2 C224.9,375.8 225.75,374.13 226.6,369.6 C227.45,365.07 229.35,354.93 229.9,352Z" fill="#e6a692"/>
<path d="M176.16,352 C180.44,356.88 196.24,374.95 201.8,381.3 C207.36,387.65 207.58,386.98 209.5,390.1 C211.42,393.22 212.38,396.52 213.3,400 C214.22,403.48 214.72,407.33 215,411 C215.28,414.67 215,416.33 215,422 C215,427.67 215,441.17 215,445 L244.55,445 C241.86,439.62 231.89,419.68 228.4,412.7 C224.91,405.72 225,406.5 223.6,403.1 C222.2,399.7 220.8,395.88 220,392.3 C219.2,388.72 218.7,384.98 218.8,381.6 C218.9,378.22 219.68,376.93 220.6,372 C221.52,367.07 223.72,355.33 224.35,352Z" fill="#f0c7b4"/>
</g>
<path d="M150.5,410.7 C150.6,406.32 152.77,401.33 155.5,397.5 C158.23,393.67 162.07,390.37 166.9,387.7 C171.73,385.03 179.38,382.92 184.5,381.5 C189.62,380.08 194.02,379.6 197.6,379.2 C201.18,378.8 203.85,379 206,379.1 C208.15,379.2 208.83,380.57 210.5,379.8 C212.17,379.03 214.22,376.07 216,374.5 C217.78,372.93 218.37,371.82 221.2,370.4 C224.03,368.98 228.5,367.15 233,366 C237.5,364.85 243,363.68 248.2,363.5 C253.4,363.32 259.38,363.87 264.2,364.9 C269.02,365.93 273.83,367.28 277.1,369.7 C280.37,372.12 282.82,375.85 283.8,379.4 C284.78,382.95 284.38,387.48 283,391 C281.62,394.52 278.67,397.5 275.5,400.5 C272.33,403.5 268.17,406.55 264,409 C259.83,411.45 255.17,414 250.5,415.2 C245.83,416.4 239.72,416.07 236,416.2 C232.28,416.33 230.43,415.78 228.2,416 C225.97,416.22 225.13,416.08 222.6,417.5 C220.07,418.92 216.75,422.32 213,424.5 C209.25,426.68 204.87,429.25 200.1,430.6 C195.33,431.95 189.93,432.63 184.4,432.6 C178.87,432.57 171.82,431.87 166.9,430.4 C161.98,428.93 157.63,427.08 154.9,423.8 C152.17,420.52 150.4,415.08 150.5,410.7Z" fill="none" stroke="#20425a" stroke-width="1.1"/>
<circle cx="211.8" cy="386.9" r="1.4" fill="#1d3f5c"/>
<circle cx="216.1" cy="390.1" r="1.4" fill="#1d3f5c"/>
<circle cx="216.8" cy="394.7" r="1.4" fill="#1d3f5c"/>
<circle cx="219" cy="397.9" r="1.4" fill="#1d3f5c"/>
<circle cx="218.7" cy="401.8" r="1.4" fill="#1d3f5c"/>
<circle cx="221.8" cy="405.3" r="1.4" fill="#1d3f5c"/>
<circle cx="220" cy="409" r="1.4" fill="#1d3f5c"/>
<line x1="219.7" y1="409.5" x2="219.7" y2="431.5" stroke="#333" stroke-width="0.8"/>
<line x1="242.8" y1="407.2" x2="260.5" y2="424.5" stroke="#111" stroke-width="0.9"/>
<text x="212.2" y="442.2" font-size="10.9" font-weight="bold">Tremor</text>
<text x="252.6" y="433.8" font-size="10.9" font-weight="bold">High Slip Rate</text>
<text transform="translate(165.2,417.9) rotate(-13)" font-size="10.8" font-weight="bold">SSE 1</text>
<text transform="translate(251.8,391.2) rotate(-12.3)" font-size="10.8" font-weight="bold">SSE 2</text>
<g transform="translate(169.2,424.4) rotate(-16.95)"><polygon points="0,-1.15 17.35,-1.15 17.35,-2.7 21.95,0 17.35,2.7 17.35,1.15 0,1.15" fill="#000"/></g>
<g transform="translate(275.8,390.6) rotate(161.9)"><polygon points="0,-1.15 17.28,-1.15 17.28,-2.7 21.88,0 17.28,2.7 17.28,1.15 0,1.15" fill="#000"/></g>
<text x="40.6" y="306.3" font-size="16" font-weight="bold">(b)</text>
<rect x="33.6" y="436.3" width="95.6" height="57" rx="10" ry="10" fill="#efe7e2" stroke="#2f4a5b" stroke-width="1.2"/>
<text x="40.8" y="443.6" font-size="9">creep</text>
<text x="121.8" y="443.6" font-size="9" text-anchor="end">locked</text>
<line x1="69" y1="441.3" x2="89" y2="441.3" stroke="#111" stroke-width="1.4"/><polygon points="92.4,441.3 88.2,439.3 88.2,443.3" fill="#111"/>
<linearGradient id="lg1" x1="0" y1="0" x2="1" y2="0"><stop offset="0" stop-color="#fff"/><stop offset="0.25" stop-color="#fafafa"/><stop offset="0.6" stop-color="#777"/><stop offset="0.9" stop-color="#111"/><stop offset="1" stop-color="#000"/></linearGradient>
<polygon points="40.3,448.6 42.6,446.7 121,446.7 123.2,448.6 121,450.4 42.6,450.4" fill="url(#lg1)" stroke="#333" stroke-width="0.8"/>
<text x="83.2" y="460.3" font-size="9" text-anchor="middle">Interseismic Coupling</text>
<text x="44.7" y="473.1" font-size="9">low</text>
<text x="121.8" y="473.1" font-size="9" text-anchor="end">high</text>
<linearGradient id="lg2" x1="0" y1="0" x2="1" y2="0"><stop offset="0" stop-color="#fff"/><stop offset="0.15" stop-color="#fff"/><stop offset="0.45" stop-color="#efc4b4"/><stop offset="0.8" stop-color="#e08882"/><stop offset="1" stop-color="#c40f14"/></linearGradient>
<polygon points="41.2,479 43.8,476.6 120.6,476.6 123.3,479 120.6,481.4 43.8,481.4" fill="url(#lg2)" stroke="#2f4a5b" stroke-width="0.9"/>
<text x="83.9" y="488.8" font-size="9" text-anchor="middle">Slip Rate</text>
<g transform="translate(319.05,-3.45)">
<path d="M66.8,351.9 L239.4,301.9 C241,302.73 245.55,304.8 249,306.9 C252.45,309 256.38,311.6 260.1,314.5 C263.82,317.4 267.8,321.03 271.3,324.3 C274.8,327.57 277.85,330.6 281.1,334.1 C284.35,337.6 287.25,341.05 290.8,345.3 C294.35,349.55 299.08,355.13 302.4,359.6 C305.72,364.07 307.92,367.68 310.7,372.1 C313.48,376.52 316.53,381.67 319.1,386.1 C321.67,390.53 324.03,394.72 326.1,398.7 C328.17,402.68 329.68,406.28 331.5,410 C333.32,413.72 335.02,416.65 337,421 C338.98,425.35 342.33,433.58 343.4,436.1 L168.5,486.2 C166.8,482.62 161.87,472.02 158.3,464.7 C154.73,457.38 150.45,448.38 147.1,442.3 C143.75,436.22 141,432.67 138.2,428.2 C135.4,423.73 132.95,419.48 130.3,415.5 C127.65,411.52 125.23,408.03 122.3,404.3 C119.37,400.57 115.9,396.83 112.7,393.1 C109.5,389.37 106.57,385.62 103.1,381.9 C99.63,378.18 95.62,374.25 91.9,370.8 C88.18,367.35 84.98,364.35 80.8,361.2 C76.62,358.05 69.13,353.45 66.8,351.9Z" fill="url(#sbg)"/>
<polygon points="168.5,486.2 343.4,436.1 338.3,447 165.5,496.3" fill="url(#sbf)"/>
<path d="M33.6,340.3 C36.4,340.9 44.87,341.97 50.4,343.9 C55.93,345.83 61.73,349.02 66.8,351.9 C71.87,354.78 76.62,358.05 80.8,361.2 C84.98,364.35 88.18,367.35 91.9,370.8 C95.62,374.25 99.63,378.18 103.1,381.9 C106.57,385.62 109.5,389.37 112.7,393.1 C115.9,396.83 119.37,400.57 122.3,404.3 C125.23,408.03 127.65,411.52 130.3,415.5 C132.95,419.48 135.4,423.73 138.2,428.2 C141,432.67 143.75,436.22 147.1,442.3 C150.45,448.38 154.73,457.38 158.3,464.7 C161.87,472.02 166.8,482.62 168.5,486.2" fill="none" stroke="#20425a" stroke-width="1.15"/>
<path d="M33.6,351.8 C36.4,352.45 45.03,353.7 50.4,355.7 C55.77,357.7 60.78,360.67 65.8,363.8 C70.82,366.93 76.15,370.95 80.5,374.5 C84.85,378.05 88.4,381.47 91.9,385.1 C95.4,388.73 98.3,392.3 101.5,396.3 C104.7,400.3 107.93,404.85 111.1,409.1 C114.27,413.35 116.35,415.73 120.5,421.8 C124.65,427.87 130.77,437.02 136,445.5 C141.23,453.98 146.98,464.23 151.9,472.7 C156.82,481.17 163.23,492.37 165.5,496.3" fill="none" stroke="#20425a" stroke-width="1.15"/>
<path d="M211.6,289.5 L239.4,301.9 C241,302.73 245.55,304.8 249,306.9 C252.45,309 256.38,311.6 260.1,314.5 C263.82,317.4 267.8,321.03 271.3,324.3 C274.8,327.57 277.85,330.6 281.1,334.1 C284.35,337.6 287.25,341.05 290.8,345.3 C294.35,349.55 299.08,355.13 302.4,359.6 C305.72,364.07 307.92,367.68 310.7,372.1 C313.48,376.52 316.53,381.67 319.1,386.1 C321.67,390.53 324.03,394.72 326.1,398.7 C328.17,402.68 329.68,406.28 331.5,410 C333.32,413.72 335.02,416.65 337,421 C338.98,425.35 342.33,433.58 343.4,436.1" fill="none" stroke="#20425a" stroke-width="1.15"/>
<line x1="33.6" y1="340.3" x2="211.6" y2="289.5" stroke="#20425a" stroke-width="1.15"/>
<line x1="33.6" y1="340.3" x2="33.6" y2="351.8" stroke="#1a2a35" stroke-width="1.1"/>
<line x1="168.5" y1="486.2" x2="343.4" y2="436.1" stroke="#20425a" stroke-width="1"/>
<polyline points="343.4,436.1 338.3,447 165.5,496.3 168.5,486.2" fill="none" stroke="#1e2a33" stroke-width="1"/>
<line x1="66.8" y1="351.9" x2="239.4" y2="301.9" stroke="#000" stroke-width="1.7"/>
<polygon points="82.21,347.43 87.5,345.9 87.03,350.41" fill="#000"/>
<polygon points="101.71,341.79 107,340.26 106.53,344.76" fill="#000"/>
<polygon points="121.21,336.14 126.5,334.61 126.03,339.11" fill="#000"/>
<polygon points="140.71,330.49 146,328.96 145.53,333.46" fill="#000"/>
<polygon points="160.21,324.84 165.5,323.31 165.03,327.82" fill="#000"/>
<polygon points="179.71,319.19 185,317.66 184.53,322.17" fill="#000"/>
<polygon points="199.21,313.54 204.5,312.01 204.03,316.52" fill="#000"/>
<polygon points="218.71,307.89 224,306.36 223.53,310.87" fill="#000"/>
<polygon points="191.9,303.2 195.4,302.2 202.1,304.9 205.7,304.6 205.9,308.3 196.4,307.5 198.6,306.2 192,303.9" fill="#3c3c3c" stroke="#3c3c3c" stroke-width="0.4" stroke-linejoin="round"/>
<polygon points="76.5,335.3 80.4,334.2 86.8,336.9 90.7,337.2 90.8,340.3 81.7,339.5 83.6,338.4 76.9,335.9" fill="#3c3c3c" stroke="#3c3c3c" stroke-width="0.4" stroke-linejoin="round"/>
<path d="M41.2,349 C43.17,349.53 49.03,350.83 53,352.2 C56.97,353.57 61,354.97 65,357.2 C69,359.43 75,364.2 77,365.6" fill="none" stroke="#14303f" stroke-width="1.1"/>
<polygon points="79.2,367.3 74.9,366 77.4,362.9" fill="#14303f"/>
<path d="M123.4,402.6 C127.83,400.9 141.4,395.5 150,392.4 C158.6,389.3 166.67,386.83 175,384 C183.33,381.17 190.5,378.32 200,375.4 C209.5,372.48 221.54,369.23 232,366.5 C242.46,363.77 251.32,361.82 262.75,359.05 C274.18,356.28 294.29,351.42 300.6,349.9" fill="none" stroke="#20425a" stroke-width="1" stroke-dasharray="5,3"/>
<path d="M152.8,449.1 C156.5,447.63 167.15,443.3 175,440.3 C182.85,437.3 191.9,433.95 199.9,431.1 C207.9,428.25 215.13,425.75 223,423.2 C230.87,420.65 236.15,418.65 247.1,415.8 C258.05,412.95 274.95,409.1 288.7,406.1 C302.45,403.1 322.78,399.18 329.6,397.8" fill="none" stroke="#20425a" stroke-width="1" stroke-dasharray="5,3"/>
<g transform="translate(301.3,351.8) rotate(58.68)"><line x1="2" y1="0" x2="52.43" y2="0" stroke="#111" stroke-width="0.9"/><polygon points="0,0 4,-1.8 4,1.8" fill="#111"/><polygon points="54.43,0 50.43,-1.8 50.43,1.8" fill="#111"/></g>
<text transform="translate(304,347) rotate(57.8)" font-size="10.8" font-weight="bold">Finite width</text>
<text transform="translate(147.4,325.6) rotate(-14)" font-size="12.5" font-weight="bold">Trench</text>
<text transform="translate(160.2,340.9) rotate(-15.5)" font-size="12.8" font-weight="bold">Locked</text>
</g>
<clipPath id="elc"><ellipse cx="537.16" cy="393.3" rx="56.52" ry="28.67" transform="rotate(-15.74 537.16 393.3)"/></clipPath>
<ellipse cx="537.16" cy="393.3" rx="56.52" ry="28.67" transform="rotate(-15.74 537.16 393.3)" fill="#fff"/>
<g clip-path="url(#elc)">
<path d="M474.48,352 C479.28,356.37 497.21,372.67 503.3,378.2 C509.39,383.73 508.9,382.4 511,385.2 C513.1,388 514.85,391.5 515.9,395 C516.95,398.5 517.03,401.78 517.3,406.2 C517.57,410.62 517.42,415.03 517.5,421.5 C517.58,427.97 517.76,441.08 517.81,445 L610.8,445 C604.32,438.52 579.32,413.52 571.9,406.1 C564.48,398.68 568.12,402.68 566.3,400.5 C564.48,398.32 562.28,395.55 561,393 C559.72,390.45 559,388.37 558.6,385.2 C558.2,382.03 558.48,377.73 558.6,374 C558.72,370.27 559.07,366.47 559.3,362.8 C559.53,359.13 559.86,353.8 559.97,352Z" fill="#f0ccb9"/>
<path d="M491.5,352 C494.75,355.9 506.58,370.1 511,375.4 C515.42,380.7 516.13,380.77 518,383.8 C519.87,386.83 521.27,389.87 522.2,393.6 C523.13,397.33 523.33,401.55 523.6,406.2 C523.87,410.85 523.72,415.03 523.8,421.5 C523.88,427.97 524.06,441.08 524.11,445 L601,445 C595.22,439.22 573.02,417.02 566.3,410.3 C559.58,403.58 562.33,406.42 560.7,404.7 C559.07,402.98 557.7,401.62 556.5,400 C555.3,398.38 554.3,397 553.5,395 C552.7,393 552,391.5 551.7,388 C551.4,384.5 551.7,378.08 551.7,374 C551.7,369.92 551.7,367.17 551.7,363.5 C551.7,359.83 551.7,353.92 551.7,352Z" fill="#e7a995"/>
<path d="M501.11,352 C503.81,355.43 513.32,367.53 517.3,372.6 C521.28,377.67 523.13,378.9 525,382.4 C526.87,385.9 527.68,389.63 528.5,393.6 C529.32,397.57 529.65,401.55 529.9,406.2 C530.15,410.85 529.96,415.03 530,421.5 C530.04,427.97 530.13,441.08 530.15,445 L592.6,445 C587.28,439.68 566.95,419.35 560.7,413.1 C554.45,406.85 556.72,409.35 555.1,407.5 C553.48,405.65 552.27,403.92 551,402 C549.73,400.08 548.4,398.33 547.5,396 C546.6,393.67 545.83,391.67 545.6,388 C545.37,384.33 546.02,377.97 546.1,374 C546.18,370.03 546.1,367.87 546.1,364.2 C546.1,360.53 546.1,354.03 546.1,352Z" fill="#e2736a"/>
<path d="M496.93,352 C500.36,355.2 512.82,366.83 517.5,371.2 C522.18,375.57 522.82,375.87 525,378.2 C527.18,380.53 529.2,382.4 530.6,385.2 C532,388 532.7,391.5 533.4,395 C534.1,398.5 534.33,402.02 534.8,406.2 C535.27,410.38 535.55,413.63 536.2,420.1 C536.85,426.57 538.29,440.85 538.71,445 L590.96,445 C584.98,440.15 562.23,421.68 555.1,415.9 C547.97,410.12 549.97,412.28 548.2,410.3 C546.43,408.32 545.62,406.22 544.5,404 C543.38,401.78 542.28,399.67 541.5,397 C540.72,394.33 540.05,391.83 539.8,388 C539.55,384.17 539.88,377.73 540,374 C540.12,370.27 540.28,369.27 540.5,365.6 C540.72,361.93 541.17,354.27 541.31,352Z" fill="#c60610"/>
</g>
<ellipse cx="537.16" cy="393.3" rx="56.52" ry="28.67" transform="rotate(-15.74 537.16 393.3)" fill="none" stroke="#1a1a1a" stroke-width="1.1"/>
<circle cx="534.8" cy="389.7" r="1.25" fill="#1d3f5c"/>
<circle cx="537.6" cy="392.4" r="1.25" fill="#1d3f5c"/>
<circle cx="537.3" cy="396.4" r="1.25" fill="#1d3f5c"/>
<line x1="537.5" y1="396.5" x2="539.6" y2="427.5" stroke="#4a7391" stroke-width="0.9"/>
<line x1="544.7" y1="412.3" x2="569.3" y2="418.2" stroke="#4a7391" stroke-width="0.9"/>
<text x="530.6" y="439.9" font-size="10.9" font-weight="bold">Tremor</text>
<text x="564.7" y="428.8" font-size="10.9" font-weight="bold">High Slip Rate</text>
<text transform="translate(488.8,410.8) rotate(-13.6)" font-size="10.5" font-weight="bold">SSE 1</text>
<text transform="translate(557.2,389) rotate(-12.6)" font-size="10.5" font-weight="bold">SSE 2</text>
<text x="360" y="305.8" font-size="16" font-weight="bold">(c)</text>
</svg>
</body></html>
